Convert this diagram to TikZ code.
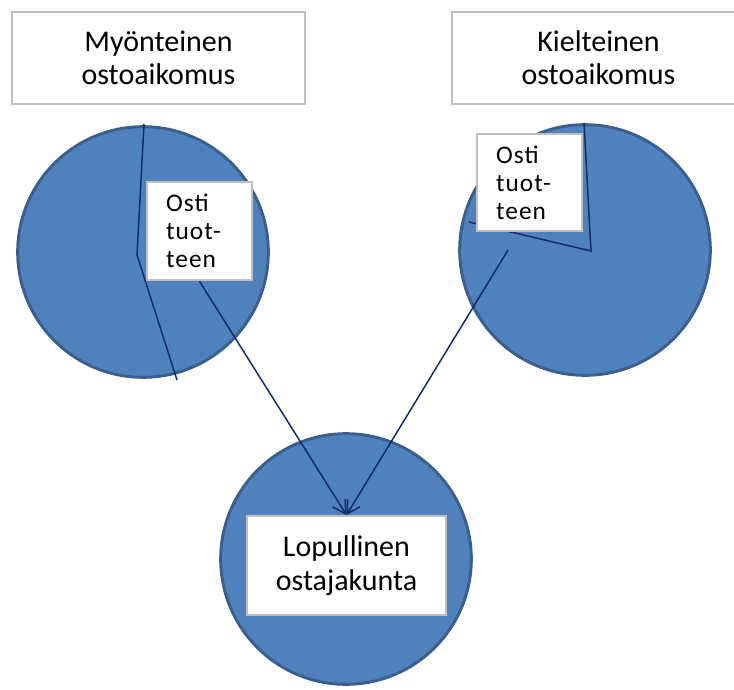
\documentclass[tikz,border=0pt]{standalone}
\usepackage{fontspec}
\setmainfont{Carlito}
\usetikzlibrary{arrows.meta}
\definecolor{disk}{HTML}{4F81BD}
\definecolor{rim}{HTML}{3A5F8D}
\definecolor{navy}{HTML}{102A66}
\definecolor{frame}{HTML}{BFBFBF}

\begin{document}
\begin{tikzpicture}[x=.75pt,y=-.75pt,>={Straight Barb[angle=60:11pt]},every node/.style={text=black},disc/.style={circle,fill=disk,draw=rim,line width=2.2pt,minimum size=188pt,inner sep=0pt},slice/.style={navy,line width=1.1pt},titlebox/.style={draw=frame,fill=white,line width=1.5pt,minimum width=219.75pt,minimum height=69pt,align=center,font=\fontsize{22.5}{25}\selectfont},ostibox/.style={draw=frame,fill=white,line width=1.5pt,align=left,inner xsep=14.25pt,text width=50pt,minimum height=74pt,font=\addfontfeature{LetterSpace=4}\fontsize{19}{21}\selectfont},flow/.style={->,navy,line width=1.1pt}]
\path[use as bounding box] (0,0) rectangle (734,689);
\clip (0,0) rectangle (734,689);

% ympyrät
\node[disc] (lcirc) at (143,252) {};
\node[disc] (rcirc) at (585,250) {};
\node[disc] (bcirc) at (346,559) {};

% sektorien rajat
\coordinate (lmid) at (137,255);
\coordinate (rmid) at (591,251);
\draw[slice] (144,124)--(lmid)--(177,380);
\draw[slice] (584,123)--(rmid)--(469,222);

% otsikot
\node[titlebox] (lhead) at (158.5,58) {Myönteinen\\ostoaikomus};
\node[titlebox] (rhead) at (598.5,58) {Kielteinen\\ostoaikomus};

\node[ostibox] (losti) at (199.5,231) {Osti\\tuot-\\teen};
\node[ostibox,minimum height=72.75pt] (rosti) at (529.5,182.5) {Osti\\tuot-\\teen};

\node[titlebox,minimum width=149.25pt,minimum height=74.25pt,font=\fontsize{22.5}{25.5}\selectfont] (final) at (346.5,565.5) {Lopullinen\\ostajakunta};

% nuolet
\coordinate (rfoot) at (508,250);
\draw[flow] (losti.south) -- (final.north);
\draw[flow] (rfoot) -- (final.north);

\end{tikzpicture}
\end{document}
